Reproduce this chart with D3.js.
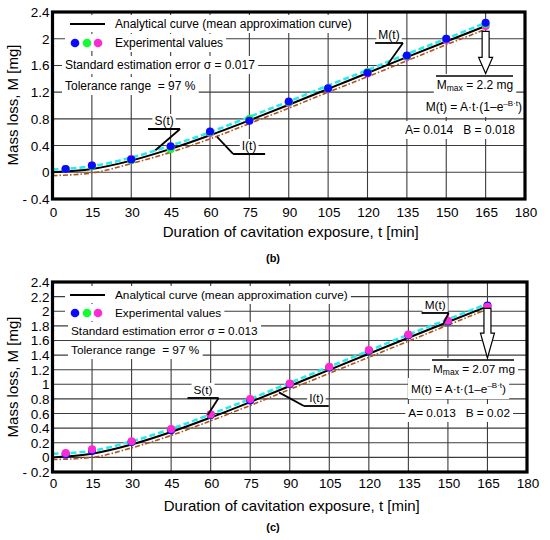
<!DOCTYPE html>
<html><head><meta charset="utf-8">
<script src="https://cdn.jsdelivr.net/npm/d3@7/dist/d3.min.js"></script>
<style>body{margin:0;background:#fff} text{font-family:Arial,"Liberation Sans",sans-serif;fill:#000;white-space:pre}</style>
</head><body><svg id="c" width="550" height="540"></svg>
<script>
// ---- data ----
const tTicks = [0,15,30,45,60,75,90,105,120,135,150,165,180];
const tCurve = [0,15,30,45,60,75,90,105,120,135,150,165];
const tExp = [5,15,30,45,60,75,90,105,120,135,150,165];

const yTicksB = [-0.4,0,0.4,0.8,1.2,1.6,2,2.4];
const yLabelsB = ["- 0.4","0","0.4","0.8","1.2","1.6","2","2.4"];
const yTicksC = [-0.2,0,0.2,0.4,0.6,0.8,1,1.2,1.4,1.6,1.8,2,2.2,2.4];
const yLabelsC = ["- 0.2","0","0.2","0.4","0.6","0.8","1","1.2","1.4","1.6","1.8","2","2.2","2.4"];

const bMean  = [0,0.05,0.175,0.35,0.555,0.778,1.011,1.248,1.486,1.724,1.959,2.19];
const bUpper = [0.04,0.09,0.22,0.40,0.60,0.83,1.06,1.30,1.53,1.77,2.00,2.24];
const bLower = [-0.05,-0.01,0.13,0.30,0.50,0.73,0.96,1.20,1.43,1.67,1.91,2.14];
const bBlue    = [0.05,0.10,0.19,0.39,0.61,0.77,1.06,1.26,1.49,1.75,2.00,2.24];
const bGreen   = [0.05,0.09,0.18,0.35,0.60,0.80,1.05,1.26,1.50,1.74,2.00,2.22];
const bMagenta = [0.05,0.10,0.20,0.37,0.59,0.78,1.04,1.25,1.48,1.73,1.98,2.19];

const cMean  = [0,0.05,0.176,0.347,0.545,0.757,0.977,1.198,1.418,1.637,1.853,2.066];
const cUpper = [0.05,0.09,0.22,0.39,0.59,0.80,1.02,1.24,1.46,1.68,1.89,2.10];
const cLower = [-0.03,0.0,0.13,0.30,0.50,0.71,0.93,1.15,1.37,1.59,1.81,2.03];
const cBlue    = [0.04,0.09,0.21,0.37,0.58,0.78,1.00,1.23,1.46,1.67,1.86,2.08];
const cGreen   = [0.05,0.10,0.21,0.38,0.58,0.79,1.00,1.23,1.46,1.67,1.86,2.07];
const cMagenta = [0.06,0.11,0.22,0.39,0.59,0.80,1.01,1.24,1.47,1.68,1.87,2.06];

const legendMean = "Analytical curve (mean approximation curve)";
const legendExp = "Experimental values";
const xTitle = "Duration of cavitation exposure, t [min]";
const yTitle = "Mass loss, M [mg]";

// ---- drawing ----
const svg = d3.select("#c");
const COL = {blue:"#0a0aff", green:"#10ff30", magenta:"#ff2ad4", cyan:"#2ee8f0", brown:"#b0521c"};

function boxed(g, x, y, anchor, size, build, pad){
  const t = g.append("text").attr("x",x).attr("y",y).attr("text-anchor",anchor).attr("font-size",size)
    .attr("xml:space","preserve");
  build(t);
  const bb = t.node().getBBox();
  const p = pad || [3,1];
  g.insert("rect", () => t.node()).attr("x",bb.x-p[0]).attr("y",bb.y-p[1])
    .attr("width",bb.width+2*p[0]).attr("height",bb.height+2*p[1]).attr("fill","#fff");
  return t;
}

function panel(P){
  const g = svg.append("g");
  const x = d3.scaleLinear().domain([0,180]).range([P.left,P.right]);
  const y = d3.scaleLinear().domain([P.yticks[0],P.yticks[P.yticks.length-1]]).range([P.bottom,P.top]);

  // grid
  g.append("g").selectAll("line").data(tTicks.slice(1,-1)).join("line")
    .attr("x1",d=>x(d)).attr("x2",d=>x(d)).attr("y1",P.top).attr("y2",P.bottom)
    .attr("stroke","#3c3c3c").attr("stroke-width",1.1);
  g.append("g").selectAll("line").data(P.yticks.slice(1,-1)).join("line")
    .attr("y1",d=>y(d)).attr("y2",d=>y(d)).attr("x1",P.left).attr("x2",P.right)
    .attr("stroke","#3c3c3c").attr("stroke-width",1.1);

  // annotation boxes + texts
  const a = g.append("g");
  const A = P.ann;
  const r1 = boxed(a, A.legX, A.leg1, "start", A.fs, t=>t.text(legendMean), [3,2]);
  a.insert("rect", ()=>r1.node()).attr("x",A.legX-50).attr("y",A.leg1-13).attr("width",52).attr("height",17).attr("fill","#fff");
  a.append("line").attr("x1",A.legX-45).attr("x2",A.legX-10).attr("y1",A.leg1-4).attr("y2",A.leg1-4)
    .attr("stroke","#000").attr("stroke-width",2);
  const r2 = boxed(a, A.legX, A.leg2, "start", A.fs, t=>t.text(legendExp), [3,2]);
  a.insert("rect", ()=>r2.node()).attr("x",A.legX-50).attr("y",A.leg2-13).attr("width",52).attr("height",17).attr("fill","#fff");
  [["blue",-40],["green",-28],["magenta",-17]].forEach(([c,dx])=>{
    a.append("circle").attr("cx",A.legX+dx).attr("cy",A.leg2-4).attr("r",4.3).attr("fill",COL[c]);
  });
  boxed(a, A.stdX, A.std, "start", A.fs, t=>t.text("Standard estimation error σ = "+P.sigma), [3,2]);
  boxed(a, A.stdX, A.tol, "start", A.fs, t=>t.text("Tolerance range  = 97 %"), [3,2]);
  boxed(a, A.mmaxX, A.mmax, "middle", A.fs, t=>{
    t.append("tspan").text("M");
    t.append("tspan").attr("font-size",8.5).attr("dy",2).text("max");
    t.append("tspan").attr("dy",-2).text(" = "+P.mmax+" mg");
  }, [3,4]);
  boxed(a, A.formX, A.form, "end", A.fs, t=>{
    t.append("tspan").text("M(t) = A·t·(1–e");
    t.append("tspan").attr("font-size",8).attr("dy",-5).text("–B·t");
    t.append("tspan").attr("dy",5).text(")");
  }, [3,3]);
  boxed(a, A.abX, A.ab, "end", A.fs, t=>t.text(P.abText), [3,2]);

  // curves
  const line = d3.line().x((d,i)=>x(tCurve[i])).y(d=>y(d)).curve(d3.curveMonotoneX);
  g.append("path").attr("d",line(P.lower)).attr("fill","none").attr("stroke",COL.brown)
    .attr("stroke-width",1.6).attr("stroke-dasharray","5,2,1.5,2");
  g.append("path").attr("d",line(P.mean)).attr("fill","none").attr("stroke","#000").attr("stroke-width",2);
  g.append("path").attr("d",line(P.upper)).attr("fill","none").attr("stroke",COL.cyan)
    .attr("stroke-width",2.6).attr("stroke-dasharray","6,3");

  // experimental points
  P.pointOrder.forEach(c=>{
    g.append("g").selectAll("circle").data(P.exp[c]).join("circle")
      .attr("cx",(d,i)=>x(tExp[i])).attr("cy",d=>y(d)).attr("r",4).attr("fill",COL[c]);
  });

  // leaders S(t), I(t), M(t)
  P.leaders.forEach(L=>{
    const ux1 = x(L.u[0]), ux2 = x(L.u[1]), uy = y(L.u[2]);
    const tx = x(L.tip[0]), ty = y(L.tip[1]);
    boxed(g, (ux1+ux2)/2, uy-4, "middle", A.fs, t=>t.text(L.label), [2,0]);
    g.append("path").attr("d",`M${ux1},${uy}H${ux2}`).attr("stroke","#000").attr("stroke-width",1.8).attr("fill","none");
    const sx = L.from==="right"?ux2:ux1;
    g.append("line").attr("x1",sx).attr("y1",uy).attr("x2",tx).attr("y2",ty).attr("stroke","#000").attr("stroke-width",1.8);
  });

  // Mmax arrow + overline
  const ax = x(165), y0 = y(P.arrow[0]), yh = y(P.arrow[1]), yt = y(P.arrow[2]);
  g.append("path").attr("d",`M${ax-3.5},${y0}H${ax+3.5}V${yh}H${ax+7}L${ax},${yt}L${ax-7},${yh}H${ax-3.5}Z`)
    .attr("fill","#fff").attr("stroke","#000").attr("stroke-width",1.2);
  g.append("line").attr("x1",A.mlx1).attr("x2",A.mlx2).attr("y1",A.mly).attr("y2",A.mly)
    .attr("stroke","#000").attr("stroke-width",1.3);

  // frame
  g.append("rect").attr("x",P.left).attr("y",P.top).attr("width",P.right-P.left).attr("height",P.bottom-P.top)
    .attr("fill","none").attr("stroke","#000").attr("stroke-width",3.2);

  // tick labels
  g.append("g").selectAll("text").data(tTicks).join("text")
    .attr("x",d=>x(d)+1).attr("y",P.bottom+P.xlab).attr("text-anchor","middle").attr("font-size",13.5).text(d=>d);
  g.append("g").selectAll("text").data(P.yticks).join("text")
    .attr("x",P.left-3).attr("y",d=>y(d)+5).attr("text-anchor","end").attr("font-size",13.5).text((d,i)=>P.ylabels[i]);

  // titles
  g.append("text").attr("x",(P.left+P.right)/2+2).attr("y",P.xTitleY).attr("text-anchor","middle").attr("font-size",15).text(xTitle);
  g.append("text").attr("transform",`translate(18,${P.yTitleY}) rotate(-90)`).attr("text-anchor","middle").attr("font-size",15).text(yTitle);
  g.append("text").attr("x",273).attr("y",P.capY).attr("text-anchor","middle").attr("font-size",11)
    .attr("font-weight","bold").attr("font-family","'Liberation Serif','Times New Roman',serif").text(P.cap);
}

panel({
  left:52.5, right:525, top:12, bottom:199, yticks:yTicksB, ylabels:yLabelsB,
  mean:bMean, upper:bUpper, lower:bLower,
  exp:{blue:bBlue, green:bGreen, magenta:bMagenta}, pointOrder:["magenta","green","blue"],
  sigma:"0.017", mmax:"2.2", abText:"A= 0.014   B = 0.018",
  arrow:[2.11,1.72,1.48],
  leaders:[
    {label:"S(t)", u:[36.4,48.6,0.648], tip:[39.2,0.33], from:"right"},
    {label:"I(t)", u:[68.8,81.0,0.274], tip:[62.7,0.53], from:"left"},
    {label:"M(t)", u:[122.9,133.5,1.936], tip:[127.8,1.62], from:"right"}
  ],
  ann:{fs:12, legX:115, leg1:28, leg2:47, stdX:65, std:69, tol:90, mmaxX:475, mmax:89,
       formX:522, form:111, abX:515, ab:134, mlx1:436, mlx2:513, mly:76},
  xlab:18, xTitleY:237, yTitleY:105, capY:262, cap:"(b)"
});

panel({
  left:52.5, right:527, top:282, bottom:472, yticks:yTicksC, ylabels:yLabelsC,
  mean:cMean, upper:cUpper, lower:cLower,
  exp:{blue:cBlue, green:cGreen, magenta:cMagenta}, pointOrder:["green","blue","magenta"],
  sigma:"0.013", mmax:"2.07", abText:"A= 0.013   B = 0.02",
  arrow:[2.04,1.70,1.36],
  leaders:[
    {label:"S(t)", u:[51.2,63.0,0.813], tip:[58.9,0.58], from:"right"},
    {label:"I(t)", u:[95.4,104.8,0.703], tip:[85.9,0.89], from:"left"},
    {label:"M(t)", u:[140.0,150.3,1.976], tip:[148.4,1.84], from:"right"}
  ],
  ann:{fs:11.8, legX:115, leg1:299, leg2:317, stdX:71, std:335, tol:354, mmaxX:474, mmax:373,
       formX:506, form:393, abX:510, ab:417, mlx1:432, mlx2:514, mly:360},
  xlab:16, xTitleY:511, yTitleY:377, capY:531, cap:"(c)"
});
</script>
</body></html>
